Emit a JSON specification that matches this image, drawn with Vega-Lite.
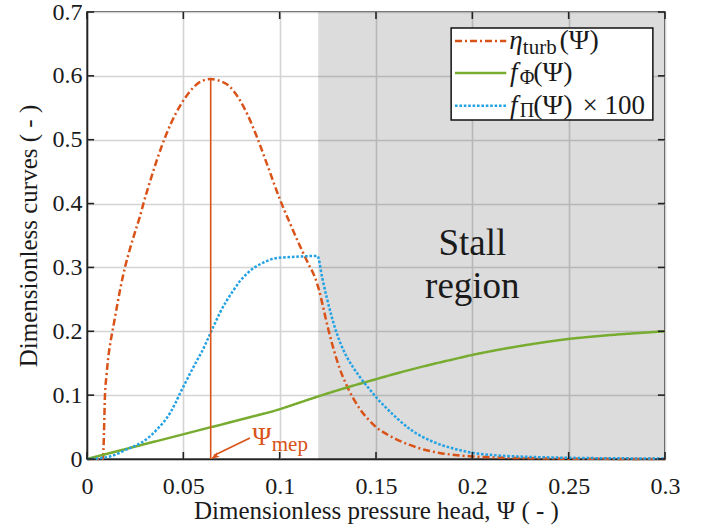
{
  "$schema": "https://vega.github.io/schema/vega-lite/v6.json",
  "width": 578,
  "height": 447,
  "autosize": {"type": "none"},
  "padding": {"left": 87, "top": 12, "right": 42, "bottom": 73},
  "background": "white",
  "config": {
    "view": {"stroke": "#222", "strokeWidth": 1.5},
    "font": "Liberation Serif",
    "text": {"font": "Liberation Serif", "color": "#1a1a1a"},
    "axis": {
      "labelFont": "Liberation Serif",
      "labelFontSize": 24,
      "labelColor": "#1a1a1a",
      "labelFlush": false,
      "labelOverlap": false,
      "titleFont": "Liberation Serif",
      "titleFontSize": 25,
      "titleFontWeight": "normal",
      "titleColor": "#1a1a1a",
      "domainColor": "#222",
      "domainWidth": 1.5,
      "ticks": false,
      "tickSize": 0,
      "grid": true,
      "gridColor": "#d4d4d4",
      "gridWidth": 1.6,
      "gridOpacity": 1
    }
  },
  "datasets": {
    "xticks": [{"tick": 0}, {"tick": 0.05}, {"tick": 0.1}, {"tick": 0.15}, {"tick": 0.2}, {"tick": 0.25}, {"tick": 0.3}],
    "yticks": [{"tick": 0}, {"tick": 0.1}, {"tick": 0.2}, {"tick": 0.3}, {"tick": 0.4}, {"tick": 0.5}, {"tick": 0.6}, {"tick": 0.7}],
    "curves": [
      {"psi": 0, "value": 0, "series": "eta"},
      {"psi": 0.0083, "value": 0, "series": "eta"},
      {"psi": 0.0088, "value": 0.04, "series": "eta"},
      {"psi": 0.0093, "value": 0.098, "series": "eta"},
      {"psi": 0.0101, "value": 0.13, "series": "eta"},
      {"psi": 0.011, "value": 0.158, "series": "eta"},
      {"psi": 0.0123, "value": 0.185, "series": "eta"},
      {"psi": 0.0137, "value": 0.208, "series": "eta"},
      {"psi": 0.0155, "value": 0.238, "series": "eta"},
      {"psi": 0.0171, "value": 0.264, "series": "eta"},
      {"psi": 0.0197, "value": 0.3, "series": "eta"},
      {"psi": 0.0223, "value": 0.329, "series": "eta"},
      {"psi": 0.025, "value": 0.356, "series": "eta"},
      {"psi": 0.0275, "value": 0.38, "series": "eta"},
      {"psi": 0.0292, "value": 0.399, "series": "eta"},
      {"psi": 0.034, "value": 0.447, "series": "eta"},
      {"psi": 0.0388, "value": 0.49, "series": "eta"},
      {"psi": 0.0435, "value": 0.525, "series": "eta"},
      {"psi": 0.0483, "value": 0.553, "series": "eta"},
      {"psi": 0.053, "value": 0.574, "series": "eta"},
      {"psi": 0.057, "value": 0.587, "series": "eta"},
      {"psi": 0.0605, "value": 0.593, "series": "eta"},
      {"psi": 0.0642, "value": 0.595, "series": "eta"},
      {"psi": 0.068, "value": 0.593, "series": "eta"},
      {"psi": 0.0742, "value": 0.583, "series": "eta"},
      {"psi": 0.0785, "value": 0.566, "series": "eta"},
      {"psi": 0.0835, "value": 0.538, "series": "eta"},
      {"psi": 0.0881, "value": 0.505, "series": "eta"},
      {"psi": 0.094, "value": 0.457, "series": "eta"},
      {"psi": 0.1002, "value": 0.406, "series": "eta"},
      {"psi": 0.1055, "value": 0.368, "series": "eta"},
      {"psi": 0.1106, "value": 0.333, "series": "eta"},
      {"psi": 0.115, "value": 0.305, "series": "eta"},
      {"psi": 0.1185, "value": 0.283, "series": "eta"},
      {"psi": 0.1205, "value": 0.264, "series": "eta"},
      {"psi": 0.1227, "value": 0.236, "series": "eta"},
      {"psi": 0.1255, "value": 0.2, "series": "eta"},
      {"psi": 0.128, "value": 0.172, "series": "eta"},
      {"psi": 0.131, "value": 0.143, "series": "eta"},
      {"psi": 0.1345, "value": 0.117, "series": "eta"},
      {"psi": 0.138, "value": 0.096, "series": "eta"},
      {"psi": 0.1417, "value": 0.078, "series": "eta"},
      {"psi": 0.146, "value": 0.062, "series": "eta"},
      {"psi": 0.1504, "value": 0.049, "series": "eta"},
      {"psi": 0.1555, "value": 0.039, "series": "eta"},
      {"psi": 0.1608, "value": 0.0305, "series": "eta"},
      {"psi": 0.1675, "value": 0.022, "series": "eta"},
      {"psi": 0.1746, "value": 0.015, "series": "eta"},
      {"psi": 0.183, "value": 0.0095, "series": "eta"},
      {"psi": 0.192, "value": 0.006, "series": "eta"},
      {"psi": 0.2, "value": 0.004, "series": "eta"},
      {"psi": 0.209, "value": 0.0028, "series": "eta"},
      {"psi": 0.22, "value": 0.0018, "series": "eta"},
      {"psi": 0.235, "value": 0.001, "series": "eta"},
      {"psi": 0.25, "value": 0.0005, "series": "eta"},
      {"psi": 0.27, "value": 0.0002, "series": "eta"},
      {"psi": 0.3, "value": 0, "series": "eta"},

      {"psi": 0, "value": 0, "series": "fphi"},
      {"psi": 0.02, "value": 0.0155, "series": "fphi"},
      {"psi": 0.04, "value": 0.031, "series": "fphi"},
      {"psi": 0.06, "value": 0.0465, "series": "fphi"},
      {"psi": 0.08, "value": 0.062, "series": "fphi"},
      {"psi": 0.1, "value": 0.078, "series": "fphi"},
      {"psi": 0.11, "value": 0.088, "series": "fphi"},
      {"psi": 0.12, "value": 0.098, "series": "fphi"},
      {"psi": 0.13, "value": 0.1075, "series": "fphi"},
      {"psi": 0.14, "value": 0.1165, "series": "fphi"},
      {"psi": 0.15, "value": 0.125, "series": "fphi"},
      {"psi": 0.16, "value": 0.1335, "series": "fphi"},
      {"psi": 0.17, "value": 0.1415, "series": "fphi"},
      {"psi": 0.18, "value": 0.149, "series": "fphi"},
      {"psi": 0.19, "value": 0.156, "series": "fphi"},
      {"psi": 0.2, "value": 0.163, "series": "fphi"},
      {"psi": 0.21, "value": 0.169, "series": "fphi"},
      {"psi": 0.22, "value": 0.1745, "series": "fphi"},
      {"psi": 0.23, "value": 0.1795, "series": "fphi"},
      {"psi": 0.24, "value": 0.184, "series": "fphi"},
      {"psi": 0.25, "value": 0.188, "series": "fphi"},
      {"psi": 0.26, "value": 0.191, "series": "fphi"},
      {"psi": 0.27, "value": 0.1937, "series": "fphi"},
      {"psi": 0.28, "value": 0.196, "series": "fphi"},
      {"psi": 0.29, "value": 0.198, "series": "fphi"},
      {"psi": 0.3, "value": 0.2, "series": "fphi"},

      {"psi": 0, "value": 0, "series": "fpi"},
      {"psi": 0.006, "value": 0.001, "series": "fpi"},
      {"psi": 0.0119, "value": 0.004, "series": "fpi"},
      {"psi": 0.0165, "value": 0.009, "series": "fpi"},
      {"psi": 0.0206, "value": 0.015, "series": "fpi"},
      {"psi": 0.0245, "value": 0.02, "series": "fpi"},
      {"psi": 0.0284, "value": 0.026, "series": "fpi"},
      {"psi": 0.0325, "value": 0.035, "series": "fpi"},
      {"psi": 0.0362, "value": 0.046, "series": "fpi"},
      {"psi": 0.0398, "value": 0.058, "series": "fpi"},
      {"psi": 0.0431, "value": 0.072, "series": "fpi"},
      {"psi": 0.0458, "value": 0.087, "series": "fpi"},
      {"psi": 0.0483, "value": 0.103, "series": "fpi"},
      {"psi": 0.051, "value": 0.119, "series": "fpi"},
      {"psi": 0.0535, "value": 0.134, "series": "fpi"},
      {"psi": 0.0565, "value": 0.151, "series": "fpi"},
      {"psi": 0.0596, "value": 0.168, "series": "fpi"},
      {"psi": 0.0618, "value": 0.182, "series": "fpi"},
      {"psi": 0.0639, "value": 0.196, "series": "fpi"},
      {"psi": 0.0665, "value": 0.213, "series": "fpi"},
      {"psi": 0.069, "value": 0.229, "series": "fpi"},
      {"psi": 0.0725, "value": 0.248, "series": "fpi"},
      {"psi": 0.076, "value": 0.264, "series": "fpi"},
      {"psi": 0.0795, "value": 0.279, "series": "fpi"},
      {"psi": 0.0829, "value": 0.29, "series": "fpi"},
      {"psi": 0.0865, "value": 0.299, "series": "fpi"},
      {"psi": 0.0898, "value": 0.305, "series": "fpi"},
      {"psi": 0.0933, "value": 0.31, "series": "fpi"},
      {"psi": 0.097, "value": 0.314, "series": "fpi"},
      {"psi": 0.1037, "value": 0.316, "series": "fpi"},
      {"psi": 0.11, "value": 0.317, "series": "fpi"},
      {"psi": 0.1184, "value": 0.318, "series": "fpi"},
      {"psi": 0.1196, "value": 0.318, "series": "fpi"},
      {"psi": 0.122, "value": 0.285, "series": "fpi"},
      {"psi": 0.1245, "value": 0.252, "series": "fpi"},
      {"psi": 0.127, "value": 0.223, "series": "fpi"},
      {"psi": 0.1295, "value": 0.198, "series": "fpi"},
      {"psi": 0.132, "value": 0.178, "series": "fpi"},
      {"psi": 0.135, "value": 0.159, "series": "fpi"},
      {"psi": 0.138, "value": 0.144, "series": "fpi"},
      {"psi": 0.141, "value": 0.131, "series": "fpi"},
      {"psi": 0.144, "value": 0.119, "series": "fpi"},
      {"psi": 0.147, "value": 0.108, "series": "fpi"},
      {"psi": 0.15, "value": 0.097, "series": "fpi"},
      {"psi": 0.155, "value": 0.081, "series": "fpi"},
      {"psi": 0.1608, "value": 0.064, "series": "fpi"},
      {"psi": 0.1675, "value": 0.047, "series": "fpi"},
      {"psi": 0.1746, "value": 0.034, "series": "fpi"},
      {"psi": 0.183, "value": 0.023, "series": "fpi"},
      {"psi": 0.192, "value": 0.015, "series": "fpi"},
      {"psi": 0.1985, "value": 0.0105, "series": "fpi"},
      {"psi": 0.2058, "value": 0.0075, "series": "fpi"},
      {"psi": 0.215, "value": 0.0052, "series": "fpi"},
      {"psi": 0.223, "value": 0.004, "series": "fpi"},
      {"psi": 0.24, "value": 0.0025, "series": "fpi"},
      {"psi": 0.26, "value": 0.0015, "series": "fpi"},
      {"psi": 0.28, "value": 0.001, "series": "fpi"},
      {"psi": 0.3, "value": 0.0008, "series": "fpi"}
    ]
  },
  "data": {"values": [{}]},
  "encoding": {
    "x": {
      "type": "quantitative",
      "scale": {"domain": [0, 0.3], "nice": false},
      "axis": {"orient": "bottom", "title": "Dimensionless pressure head, Ψ  ( - )",
               "grid": true, "labelPadding": 15,
               "values": [0, 0.05, 0.1, 0.15, 0.2, 0.25, 0.3], "format": "~g", "titlePadding": 0}
    },
    "y": {
      "type": "quantitative",
      "scale": {"domain": [0, 0.7], "nice": false},
      "axis": {"orient": "left", "title": "Dimensionless curves  ( - )",
               "grid": true, "labelPadding": 5,
               "values": [0, 0.1, 0.2, 0.3, 0.4, 0.5, 0.6, 0.7], "format": "~g", "titlePadding": 11}
    }
  },
  "layer": [
    {
      "mark": {"type": "rect", "fill": "#000", "opacity": 0.137},
      "encoding": {"x": {"datum": 0.12}, "x2": {"datum": 0.3}, "y": {"datum": 0}, "y2": {"datum": 0.7}}
    },
    {
      "data": {"name": "curves"},
      "mark": {"type": "line", "strokeWidth": 2.5, "interpolate": "monotone"},
      "encoding": {
        "x": {"field": "psi"},
        "y": {"field": "value"},
        "color": {
          "field": "series", "type": "nominal",
          "scale": {"domain": ["eta", "fphi", "fpi"], "range": ["#D95319", "#77AC30", "#22A2E4"]},
          "legend": null
        },
        "strokeDash": {
          "field": "series", "type": "nominal",
          "scale": {"domain": ["eta", "fphi", "fpi"], "range": [[7, 3, 2, 3], [1, 0], [2.6, 1.8]]},
          "legend": null
        }
      }
    },
    {
      "data": {"name": "xticks"},
      "mark": {"type": "rule", "color": "#222", "strokeWidth": 1.6},
      "encoding": {"x": {"field": "tick", "type": "quantitative"}, "y": {"datum": 0}, "y2": {"datum": 0.011}}
    },
    {
      "data": {"name": "xticks"},
      "mark": {"type": "rule", "color": "#222", "strokeWidth": 1.6},
      "encoding": {"x": {"field": "tick", "type": "quantitative"}, "y": {"datum": 0.7}, "y2": {"datum": 0.689}}
    },
    {
      "data": {"name": "yticks"},
      "mark": {"type": "rule", "color": "#222", "strokeWidth": 1.6},
      "encoding": {"y": {"field": "tick", "type": "quantitative"}, "x": {"datum": 0}, "x2": {"datum": 0.0037}}
    },
    {
      "data": {"name": "yticks"},
      "mark": {"type": "rule", "color": "#222", "strokeWidth": 1.6},
      "encoding": {"y": {"field": "tick", "type": "quantitative"}, "x": {"datum": 0.3}, "x2": {"datum": 0.2963}}
    },
    {
      "mark": {"type": "rule", "color": "#D95319", "strokeWidth": 1.6},
      "encoding": {"x": {"datum": 0.0642}, "y": {"datum": 0}, "y2": {"datum": 0.595}}
    },
    {
      "mark": {"type": "rule", "color": "#D95319", "strokeWidth": 1.6},
      "encoding": {"x": {"datum": 0.0846}, "y": {"datum": 0.033}, "x2": {"datum": 0.0658}, "y2": {"datum": 0.0055}}
    },
    {
      "mark": {"type": "point", "shape": "M0,-1L0.6,1L0,0.6L-0.6,1Z", "filled": true, "size": 80,
               "angle": 240, "color": "#D95319", "opacity": 1},
      "encoding": {"x": {"datum": 0.0662}, "y": {"datum": 0.0035}}
    },
    {
      "mark": {"type": "text", "text": "Ψ", "fontSize": 26, "align": "center", "baseline": "middle", "color": "#D95319"},
      "encoding": {"x": {"datum": 0.0907}, "y": {"datum": 0.034}}
    },
    {
      "mark": {"type": "text", "text": "mep", "fontSize": 21, "align": "left", "baseline": "middle", "color": "#D95319"},
      "encoding": {"x": {"datum": 0.0959}, "y": {"datum": 0.0227}}
    },
    {
      "mark": {"type": "text", "text": "Stall", "fontSize": 37, "align": "center", "baseline": "alphabetic"},
      "encoding": {"x": {"datum": 0.2}, "y": {"datum": 0.32}}
    },
    {
      "mark": {"type": "text", "text": "region", "fontSize": 37, "align": "center", "baseline": "alphabetic"},
      "encoding": {"x": {"datum": 0.2}, "y": {"datum": 0.2523}}
    },
    {
      "mark": {"type": "rect", "fill": "white", "stroke": "#111", "strokeWidth": 1.5},
      "encoding": {"x": {"datum": 0.189}, "x2": {"datum": 0.2937}, "y": {"datum": 0.531}, "y2": {"datum": 0.675}}
    },
    {
      "mark": {"type": "rule", "color": "#D95319", "strokeWidth": 2.5, "strokeDash": [7, 3, 2, 3]},
      "encoding": {"x": {"datum": 0.191}, "x2": {"datum": 0.2176}, "y": {"datum": 0.6545}}
    },
    {
      "mark": {"type": "rule", "color": "#77AC30", "strokeWidth": 2.5},
      "encoding": {"x": {"datum": 0.191}, "x2": {"datum": 0.2176}, "y": {"datum": 0.6044}}
    },
    {
      "mark": {"type": "rule", "color": "#22A2E4", "strokeWidth": 2.5, "strokeDash": [2.6, 1.8]},
      "encoding": {"x": {"datum": 0.191}, "x2": {"datum": 0.2176}, "y": {"datum": 0.553}}
    },
    {
      "mark": {"type": "text", "text": "η", "fontStyle": "italic", "fontSize": 27, "align": "left", "baseline": "middle"},
      "encoding": {"x": {"datum": 0.2191}, "y": {"datum": 0.6545}}
    },
    {
      "mark": {"type": "text", "text": "turb", "fontSize": 21, "align": "left", "baseline": "middle", "dy": 7},
      "encoding": {"x": {"datum": 0.2262}, "y": {"datum": 0.6545}}
    },
    {
      "mark": {"type": "text", "text": "(Ψ)", "fontSize": 28, "align": "left", "baseline": "middle"},
      "encoding": {"x": {"datum": 0.2452}, "y": {"datum": 0.6545}}
    },
    {
      "mark": {"type": "text", "text": "f", "fontStyle": "italic", "fontSize": 27, "align": "left", "baseline": "middle"},
      "encoding": {"x": {"datum": 0.2196}, "y": {"datum": 0.6044}}
    },
    {
      "mark": {"type": "text", "text": "Φ", "fontSize": 20, "align": "left", "baseline": "middle", "dy": 5},
      "encoding": {"x": {"datum": 0.2246}, "y": {"datum": 0.6044}}
    },
    {
      "mark": {"type": "text", "text": "(Ψ)", "fontSize": 28, "align": "left", "baseline": "middle"},
      "encoding": {"x": {"datum": 0.2316}, "y": {"datum": 0.6044}}
    },
    {
      "mark": {"type": "text", "text": "f", "fontStyle": "italic", "fontSize": 27, "align": "left", "baseline": "middle"},
      "encoding": {"x": {"datum": 0.2196}, "y": {"datum": 0.553}}
    },
    {
      "mark": {"type": "text", "text": "Π", "fontSize": 20, "align": "left", "baseline": "middle", "dy": 5},
      "encoding": {"x": {"datum": 0.2246}, "y": {"datum": 0.553}}
    },
    {
      "mark": {"type": "text", "text": "(Ψ)", "fontSize": 28, "align": "left", "baseline": "middle"},
      "encoding": {"x": {"datum": 0.2316}, "y": {"datum": 0.553}}
    },
    {
      "mark": {"type": "text", "text": "× 100", "fontSize": 27, "align": "left", "baseline": "middle"},
      "encoding": {"x": {"datum": 0.2572}, "y": {"datum": 0.553}}
    }
  ]
}
